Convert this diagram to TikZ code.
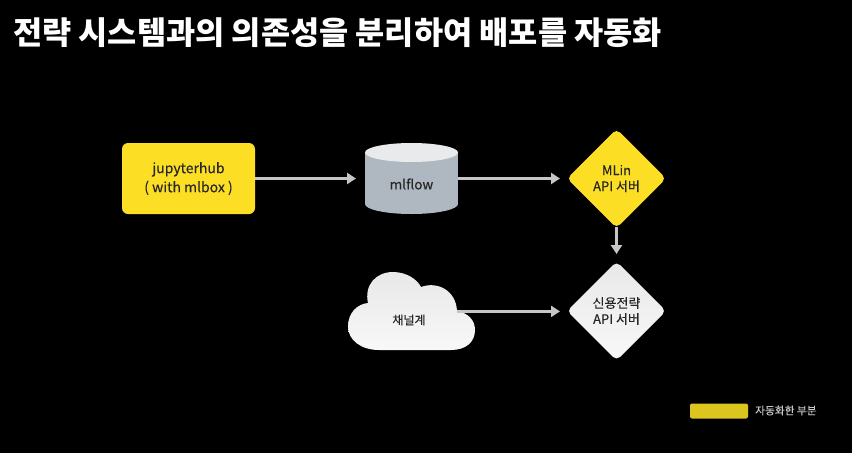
\documentclass[tikz,border=0pt]{standalone}
\usepackage{fontspec}
\setmainfont{Noto Sans CJK KR}
\newfontfamily\lblfont[FakeBold=0.2]{Noto Sans CJK KR}
\usetikzlibrary{shapes.geometric,arrows.meta}
\definecolor{ybox}{HTML}{FCDF24}
\definecolor{ink}{HTML}{262626}
\definecolor{linkc}{HTML}{C6C6C6}
\definecolor{cylbody}{HTML}{AFB8C0}
\definecolor{cyltop}{HTML}{E9EAEB}
\definecolor{legendy}{HTML}{DDC51F}
\definecolor{greyA}{HTML}{E8E8E8}
\definecolor{greyB}{HTML}{F8F8F8}
\tikzset{
  lbl/.style={text=ink,font=\lblfont\fontsize{13.5}{17}\selectfont,align=center,inner sep=0pt},
  dia/.style={diamond,aspect=1,minimum width=99pt,minimum height=99pt,inner sep=0pt,outer sep=0pt,rounded corners=5pt,align=center,text=ink,font=\lblfont\fontsize{13}{16}\selectfont},
  link/.style={draw=linkc,line width=2.6pt,-{Triangle[length=9pt,width=11pt]}}
}
\begin{document}
\begin{tikzpicture}[x=1pt,y=-1pt]
\fill[black] (0,0) rectangle (852,453);
\useasboundingbox (0,0) rectangle (852,453);
\node[anchor=west,text=white,inner sep=0pt,font=\fontsize{31.7}{34}\selectfont\bfseries] (title) at (13,32.5) {전략 시스템과의 의존성을 분리하여 배포를 자동화};
\node[rectangle,rounded corners=6pt,fill=ybox,minimum width=133pt,minimum height=71pt,inner sep=0pt,outer sep=0pt,align=center,text=ink,font=\lblfont\fontsize{14}{19}\selectfont] (hub) at (188.5,178.5) {jupyterhub\\( with mlbox )};
% cylinder
\fill[cylbody] (365,152.5) rectangle (458,204);
\fill[cylbody] (411.5,204) ellipse (46.5pt and 10pt);
\fill[cyltop] (411.5,152.5) ellipse (46.5pt and 9.5pt);
\node[rectangle,minimum width=93pt,minimum height=71pt,inner sep=0pt,outer sep=0pt] (flow) at (411.5,178.5) {};
\node[lbl] (flowtext) at (411.5,184) {mlflow};
\node[dia,fill=ybox] (mlin) at (616.5,178.5) {MLin\\API 서버};
\node[dia,top color=greyA,bottom color=greyB] (credit) at (616.5,311) {신용전략\\API 서버};
\path[top color=greyA,bottom color=greyB]
 (379,350) .. controls (361,350) and (348,340) .. (348,326.5)
 .. controls (348,313) and (357,304) .. (368,303)
 .. controls (364,285) and (376,272) .. (393,272)
 .. controls (406,272) and (417,279) .. (421,287)
 .. controls (437,281) and (456,290) .. (457,311)
 .. controls (468,313) and (475,320) .. (475,330)
 .. controls (475,342) and (466,350) .. (451,350) -- cycle;
\node[lbl,font=\lblfont\fontsize{12}{15}\selectfont] (chan) at (409,320) {채널계};
\coordinate (chanout) at (457,311.4);
\draw[link,shorten >=9pt] (hub.east |- flow.west) -- (flow.west);
\draw[link,shorten >=7pt] (flow.east) -- (mlin.west);
\draw[link,shorten >=7.5pt,shorten <=-1pt] (mlin.south) -- (credit.north);
\draw[link,shorten >=7pt] (chanout) -- (credit.west |- chanout);
\node[rectangle,rounded corners=2pt,fill=legendy,minimum width=58pt,minimum height=15pt,inner sep=0pt] (legend) at (719,411) {};
\node[anchor=west,text=white!78!black,inner sep=0pt,font=\lblfont\fontsize{10.7}{12}\selectfont] (legtext) at (755,410.5) {자동화한 부분};
\end{tikzpicture}
\end{document}
